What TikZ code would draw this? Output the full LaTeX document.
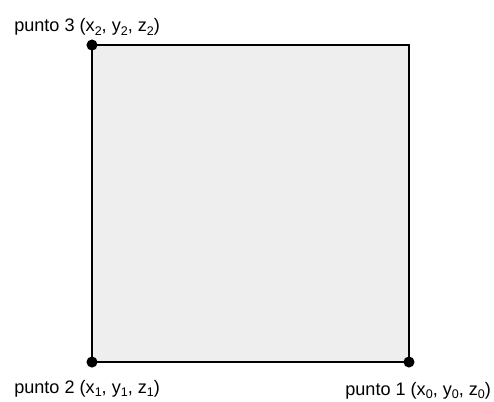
\documentclass[tikz,border=0pt]{standalone}
\usepackage{fontspec}
\setmainfont{Liberation Sans}
\definecolor{caragris}{HTML}{EEEEEE}
\newcommand{\subind}[1]{\raisebox{-2.6pt}{\fontsize{9}{9}\selectfont #1}}
\tikzset{
  punto/.style={circle,fill=black,inner sep=0pt,minimum size=0.28cm},
  etiqueta/.style={inner sep=0pt,anchor=base west,font=\fontsize{13}{15}\selectfont}
}

\begin{document}
\begin{tikzpicture}
\useasboundingbox (-2.322,-0.984) rectangle (10.146,9.137);
\coordinate (c1) at (8,0);
\coordinate (c2) at (0,0);
\coordinate (c3) at (0,8);
\coordinate (c4) at (8,8);
\draw[line width=1.4pt,fill=caragris] (c2) -- (c1) -- (c4) -- (c3) -- cycle;
\node[punto] (p1) at (c1) {};
\node[punto] (p2) at (c2) {};
\node[punto] (p3) at (c3) {};
\node[etiqueta] (e3) at (-1.969,8.33) {punto 3 (x\subind{2}, y\subind{2}, z\subind{2})};
\node[etiqueta] (e2) at (-1.969,-0.782) {punto 2 (x\subind{1}, y\subind{1}, z\subind{1})};
\node[etiqueta] (e1) at (6.386,-0.84) {punto 1 (x\subind{0}, y\subind{0}, z\subind{0})};
\end{tikzpicture}
\end{document}
